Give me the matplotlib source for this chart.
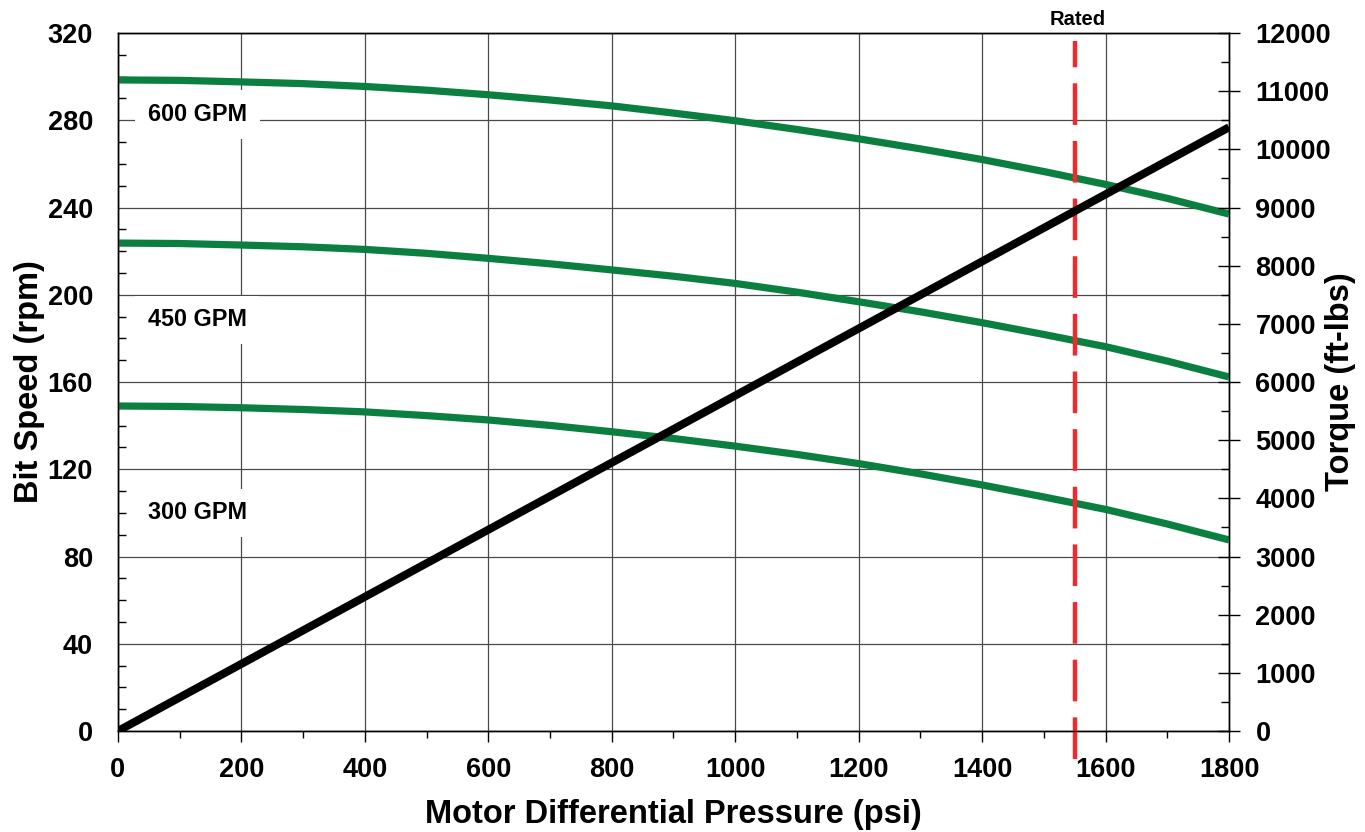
import matplotlib
matplotlib.use("Agg")
import matplotlib.pyplot as plt
import numpy as np
from matplotlib.ticker import MultipleLocator

plt.rcParams['font.family'] = ['Liberation Sans', 'DejaVu Sans']
plt.rcParams['font.weight'] = 'bold'
plt.rcParams['lines.scale_dashes'] = False

# curve data (every 100 psi)
pressure = [0, 100, 200, 300, 400, 500, 600, 700, 800, 900,
            1000, 1100, 1200, 1300, 1400, 1500, 1600, 1700, 1800]
speed_600 = [298.5, 298.3, 297.6, 296.8, 295.5, 293.8, 291.7, 289.3, 286.6, 283.3,
             279.8, 275.8, 271.5, 266.9, 262.0, 256.5, 250.6, 244.2, 237.0]
speed_450 = [223.7, 223.5, 222.8, 222.0, 220.8, 219.0, 216.7, 214.2, 211.4, 208.5,
             205.2, 201.2, 196.8, 192.2, 187.2, 181.8, 176.2, 169.6, 162.3]
speed_300 = [149.0, 148.8, 148.2, 147.4, 146.3, 144.6, 142.6, 140.1, 137.2, 134.1,
             130.6, 126.8, 122.6, 117.9, 112.8, 107.3, 101.6, 94.9, 87.6]
gpm_labels = ['600 GPM', '450 GPM', '300 GPM']
label_y = [282.5, 188.5, 100.0]

torque_p = [0, 1800]
torque = [0, 10380]
rated_p = 1550

green = '#0b7f3f'

fig = plt.figure(figsize=(13.65, 8.32), dpi=100)
ax = fig.add_axes([0.0864, 0.1214, 0.8140, 0.8389])
ax2 = ax.twinx()

ax.set_xlim(0, 1800)
ax.set_ylim(0, 320)
ax2.set_ylim(0, 12000)

ax.xaxis.set_major_locator(MultipleLocator(200))
ax.xaxis.set_minor_locator(MultipleLocator(100))
ax.yaxis.set_major_locator(MultipleLocator(40))
ax.yaxis.set_minor_locator(MultipleLocator(10))
ax2.yaxis.set_major_locator(MultipleLocator(1000))
ax2.yaxis.set_minor_locator(MultipleLocator(500))

ax.grid(True, which='major', color='#4a4a4a', linewidth=0.9)
ax.set_axisbelow(True)

for s in [speed_600, speed_450, speed_300]:
    ax.plot(pressure, s, color=green, linewidth=5.2, solid_capstyle='butt', zorder=3)

for txt, y in zip(gpm_labels, label_y):
    ax.text(48, y, txt, fontsize=16.8, fontweight='bold', va='center', ha='left', zorder=2,
            bbox=dict(boxstyle='square,pad=0.55', facecolor='white', edgecolor='none'))

ax2.plot(torque_p, torque, color='black', linewidth=5.8, solid_capstyle='butt', zorder=3)

ax.plot([rated_p, rated_p], [-12.8, 316.3], color='#ee2a2e', linewidth=3.2,
        dashes=(30, 11.5), clip_on=False, zorder=4)
ax.text(rated_p + 5, 326, 'Rated', fontsize=14.5, fontweight='bold', ha='center', va='center')

for sp in ['top', 'bottom', 'left', 'right']:
    ax.spines[sp].set_linewidth(1.0)
    ax2.spines[sp].set_linewidth(1.0)

ax.tick_params(axis='x', which='major', direction='out', length=8, width=1, pad=11, labelsize=19.5)
ax.tick_params(axis='x', which='minor', direction='out', length=5, width=1)
ax.tick_params(axis='y', which='major', direction='in', length=0, pad=18, labelsize=19.5)
ax.tick_params(axis='y', which='minor', direction='in', length=6, width=1)
ax2.tick_params(axis='y', which='major', direction='inout', length=16, width=1, pad=11, labelsize=19.5)
ax2.tick_params(axis='y', which='minor', direction='in', length=6, width=1)

for lab in ax.get_xticklabels() + ax.get_yticklabels() + ax2.get_yticklabels():
    lab.set_fontweight('bold')

ax.set_xlabel('Motor Differential Pressure (psi)', fontsize=23.5, fontweight='bold')
ax.set_ylabel('Bit Speed (rpm)', fontsize=23.5, fontweight='bold')
ax2.set_ylabel('Torque (ft-lbs)', fontsize=23.5, fontweight='bold')
ax.xaxis.set_label_coords(0.5, -0.1203)
ax.yaxis.set_label_coords(-0.0792, 0.5)
ax2.yaxis.set_label_coords(1.0999, 0.5)
ax.xaxis.label.set_va('center')
ax.yaxis.label.set_va('center')
ax2.yaxis.label.set_va('center')

fig.savefig('out.png', dpi=100)
